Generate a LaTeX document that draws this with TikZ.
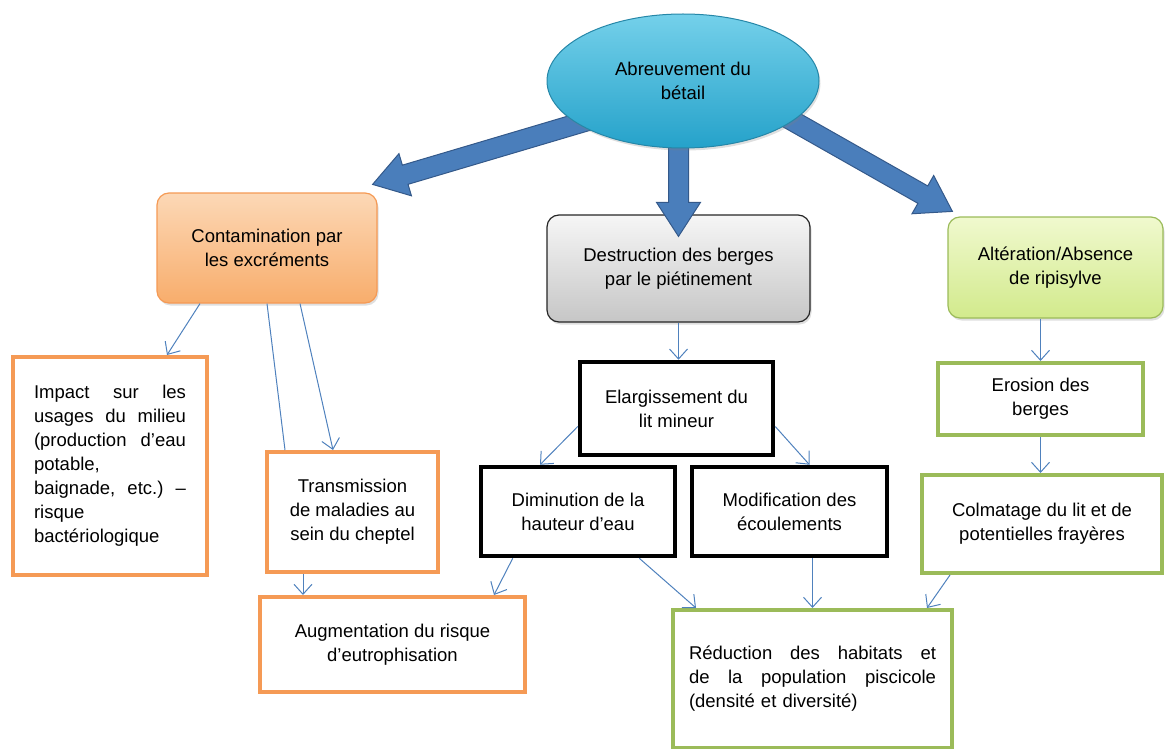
\documentclass[tikz,border=0pt]{standalone}
\usepackage{fontspec}
\setmainfont{Liberation Sans}
\usetikzlibrary{calc,shapes.geometric,shadows,arrows.meta}
\pgfdeclarelayer{front}
\pgfsetlayers{main,front}
\definecolor{thinblue}{HTML}{4F81BD}
\definecolor{fatblue}{HTML}{4A7EBB}
\definecolor{fatedge}{HTML}{34598A}
\definecolor{elltop}{HTML}{74D0EA}
\definecolor{ellbot}{HTML}{25A2CA}
\definecolor{elledge}{HTML}{2687A8}
\definecolor{orangeline}{HTML}{F59A55}
\definecolor{orangetop}{HTML}{FCD8B6}
\definecolor{orangebot}{HTML}{F8AD6C}
\definecolor{greenline}{HTML}{9BBB59}
\definecolor{greentop}{HTML}{F0F9CE}
\definecolor{greenbot}{HTML}{D2EA8C}
\definecolor{graytop}{HTML}{F6F6F6}
\definecolor{graybot}{HTML}{C6C6C6}
% fat arrow from #1 to #2, its tail tucked under the ellipse
\newcommand\fatarrow[2]{%
  \coordinate (fa-t) at ($(#1)!-16pt!(#2)$);
  \coordinate (fa-h) at ($(#2)!34pt!(#1)$);
  \filldraw[fatarrowstyle] ($(fa-t)!10pt!90:(#2)$) -- ($(fa-h)!10pt!90:(#2)$)
    -- ($(fa-h)!22pt!90:(#2)$) -- (#2) -- ($(fa-h)!22pt!-90:(#2)$)
    -- ($(fa-h)!10pt!-90:(#2)$) -- ($(fa-t)!10pt!-90:(#2)$) -- cycle;}
\begin{document}
\begin{tikzpicture}[x=1pt, y=-1pt,
    every node/.style={font=\fontsize{18.5}{24}\selectfont, align=center, inner sep=0pt},
    softbox/.style={rectangle, rounded corners=12pt, line width=1.2pt,
      drop shadow={opacity=0.25, shadow xshift=1.5pt, shadow yshift=-2.5pt}},
    orangebox/.style={rectangle, draw=orangeline, line width=4pt, fill=white},
    greenbox/.style={rectangle, draw=greenline, line width=4pt, fill=white},
    blackbox/.style={rectangle, draw=black, line width=4.5pt, fill=white},
    fatarrowstyle/.style={fill=fatblue, draw=fatedge, line width=1pt, line join=miter},
    thinarrow/.style={draw=thinblue, line width=1pt, -{Straight Barb[length=10pt,width=18pt]}},
    thinline/.style={draw=thinblue, line width=1pt}]
  \useasboundingbox (0,0) rectangle (1167,749);
  % first row
  \node[softbox, draw=orangeline, top color=orangetop, bottom color=orangebot,
    minimum width=220pt, minimum height=110pt] (cont) at (267,248)
    {Contamination par\\les excréments};
  \node[softbox, draw=black!85, top color=graytop, bottom color=graybot,
    minimum width=263pt, minimum height=107pt] (dest) at (678.5,268.5)
    {Destruction des berges\\par le piétinement};
  \node[softbox, draw=greenline, top color=greentop, bottom color=greenbot,
    minimum width=215pt, minimum height=101pt] (alt) at (1055.5,267.5)
    {Altération/Absence\\de ripisylve};
  % left branch
  \node[orangebox, minimum width=194pt, minimum height=218pt, text width=152pt, align=left]
    (impact) at (110,466)
    {Impact\hfill sur\hfill les\\usages\hfill du\hfill milieu\\(production\hfill d’eau\\potable,\\
     baignade,\hfill etc.)\hfill –\\risque\\bactériologique};
  \node[orangebox, minimum width=171pt, minimum height=120pt] (trans) at (352.5,512)
    {Transmission\\de maladies au\\sein du cheptel};
  \node[orangebox, minimum width=265pt, minimum height=95pt] (aug) at (392.5,644.5)
    {Augmentation du risque\\d’eutrophisation};
  % middle branch
  \node[blackbox, minimum width=193pt, minimum height=93pt] (elarg) at (676.5,408.5)
    {Elargissement du\\lit mineur};
  \node[blackbox, minimum width=194pt, minimum height=89pt] (dimin) at (578,511.5)
    {Diminution de la\\hauteur d’eau};
  \node[blackbox, minimum width=195pt, minimum height=89pt] (modif) at (789.5,511.5)
    {Modification des\\écoulements};
  % right branch
  \node[greenbox, minimum width=205pt, minimum height=72pt] (erosion) at (1040.5,399)
    {Erosion des\\berges};
  \node[greenbox, minimum width=240pt, minimum height=98pt] (colm) at (1042,524)
    {Colmatage du lit et de\\potentielles frayères};
  \node[greenbox, minimum width=279pt, minimum height=138pt, text width=247pt, align=left]
    (reduc) at (812.5,679)
    {Réduction\hfill des\hfill habitats\hfill et\\de\hfill la\hfill population\hfill piscicole\\
     (densité et diversité)};
  % top ellipse
  \begin{pgfonlayer}{front}
    \node[ellipse, draw=elledge, line width=1pt, top color=elltop, bottom color=ellbot,
      minimum width=272pt, minimum height=134pt,
      drop shadow={opacity=0.25, shadow xshift=1.5pt, shadow yshift=-2.5pt}]
      (ell) at (683,81) {Abreuvement du\\bétail};
  \end{pgfonlayer}
  % fat arrows
  \coordinate (ltip) at ([shift={(-5pt,8pt)}]cont.north east);
  \coordinate (mtip) at ([yshift=-22pt]dest.north);
  \coordinate (mtail) at (ell.south -| mtip);
  \coordinate (rtip) at ([shift={(5pt,5pt)}]alt.north west);
  \fatarrow{ell.202}{ltip}
  \fatarrow{mtail}{mtip}
  \fatarrow{ell.340}{rtip}
  % thin arrows
  \draw[thinarrow] ([xshift=-67pt]cont.south) -- ([xshift=57pt]impact.north);
  \draw[thinline] (cont.south) -- ([xshift=20pt]trans.north west);
  \draw[thinarrow] ([xshift=33pt]cont.south) -- ([xshift=-19.5pt]trans.north);
  \draw[thinarrow] ([xshift=38pt]trans.south west) -- ([xshift=45pt]aug.north west);
  \draw[thinarrow] ([xshift=34pt]dimin.south west) -- ([xshift=-33pt]aug.north east);
  \draw[thinarrow] (dest.south) -- (dest.south |- elarg.north);
  \draw[thinarrow] ([yshift=-18pt]elarg.west) -- ([xshift=-38pt]dimin.north);
  \draw[thinarrow] ([yshift=-18pt]elarg.east) -- ([xshift=20pt]modif.north);
  \draw[thinarrow] ([xshift=-38pt]dimin.south east) -- ([xshift=25pt]reduc.north west);
  \draw[thinarrow] (reduc.north |- modif.south) -- (reduc.north);
  \draw[thinarrow] ([xshift=30pt]colm.south west) -- ([xshift=-27pt]reduc.north east);
  \draw[thinarrow] (erosion.north |- alt.south) -- (erosion.north);
  \draw[thinarrow] (erosion.south) -- (erosion.south |- colm.north);
\end{tikzpicture}
\end{document}
